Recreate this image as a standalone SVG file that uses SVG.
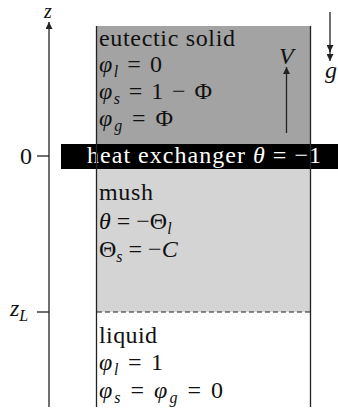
<svg xmlns="http://www.w3.org/2000/svg" width="338" height="412" viewBox="0 0 338 412">
<style>
text{font-family:"Liberation Serif","DejaVu Serif",serif;font-size:24px;fill:#111}
.i{font-style:italic}
.sub{font-size:16px;font-style:italic}
.ln{stroke:#222;stroke-width:1.3;fill:none}
.w{fill:#fff}
</style>
<defs>
<marker id="ah" viewBox="0 0 10 10" refX="10" refY="5" markerWidth="7" markerHeight="7" markerUnits="userSpaceOnUse" orient="auto">
<path d="M0,0 L10,5 L0,10 z" fill="#222"/>
</marker>
</defs>
<g id="solid">
<rect x="97" y="26" width="213" height="118" fill="#a3a3a3"/>
<text x="99" y="46" textLength="136">eutectic solid</text>
<text x="99" y="72" textLength="63"><tspan class="i">φ</tspan><tspan class="sub" dy="5">l</tspan><tspan dy="-5"> = 0</tspan></text>
<text x="99" y="99" textLength="113"><tspan class="i">φ</tspan><tspan class="sub" dy="5">s</tspan><tspan dy="-5"> = 1 − Φ</tspan></text>
<text x="99" y="126" textLength="74"><tspan class="i">φ</tspan><tspan class="sub" dy="5">g</tspan><tspan dy="-5"> = Φ</tspan></text>
</g>
<g id="mush">
<rect x="97" y="169" width="213" height="143" fill="#d4d4d4"/>
<text x="99" y="200" textLength="54">mush</text>
<text x="99" y="229"><tspan class="i">θ</tspan> = −Θ<tspan class="sub" dy="5">l</tspan></text>
<text x="99" y="257">Θ<tspan class="sub" dy="5">s</tspan><tspan dy="-5"> = −</tspan><tspan class="i">C</tspan></text>
</g>
<g id="liquid">
<text x="99" y="343" textLength="58">liquid</text>
<text x="99" y="370" textLength="64"><tspan class="i">φ</tspan><tspan class="sub" dy="5">l</tspan><tspan dy="-5"> = 1</tspan></text>
<text x="99" y="398" textLength="124"><tspan class="i">φ</tspan><tspan class="sub" dy="5">s</tspan><tspan dy="-5"> = </tspan><tspan class="i">φ</tspan><tspan class="sub" dy="5">g</tspan><tspan dy="-5"> = 0</tspan></text>
</g>
<g id="heat-exchanger">
<rect x="61" y="144" width="277" height="25" fill="#000"/>
<text x="87" y="163" class="w" textLength="234">heat exchanger <tspan class="i">θ</tspan> = −1</text>
</g>
<g id="connectors">
<line class="ln" x1="96.5" y1="26" x2="96.5" y2="407"/>
<line class="ln" x1="310.5" y1="26" x2="310.5" y2="407"/>
<line x1="97" y1="312" x2="310" y2="312" stroke="#222" stroke-width="1.2" stroke-dasharray="5,3"/>
<line class="ln" x1="49" y1="407" x2="49" y2="22" marker-end="url(#ah)"/>
<line class="ln" x1="37" y1="156" x2="49" y2="156"/>
<line class="ln" x1="37" y1="312" x2="49" y2="312"/>
<line class="ln" x1="286.5" y1="133" x2="286.5" y2="67" marker-end="url(#ah)"/>
<line class="ln" x1="330" y1="12" x2="330" y2="52" marker-end="url(#ah)"/>
<line class="ln" x1="330" y1="50" x2="330" y2="61" marker-end="url(#ah)"/>
</g>
<g id="labels">
<text x="44" y="18" class="i" style="font-size:20px">z</text>
<text x="20" y="164">0</text>
<text x="10" y="316" class="i">z<tspan class="sub" dy="5">L</tspan></text>
<text x="279" y="64" class="i">V</text>
<text x="325" y="78" class="i">g</text>
</g>
</svg>
